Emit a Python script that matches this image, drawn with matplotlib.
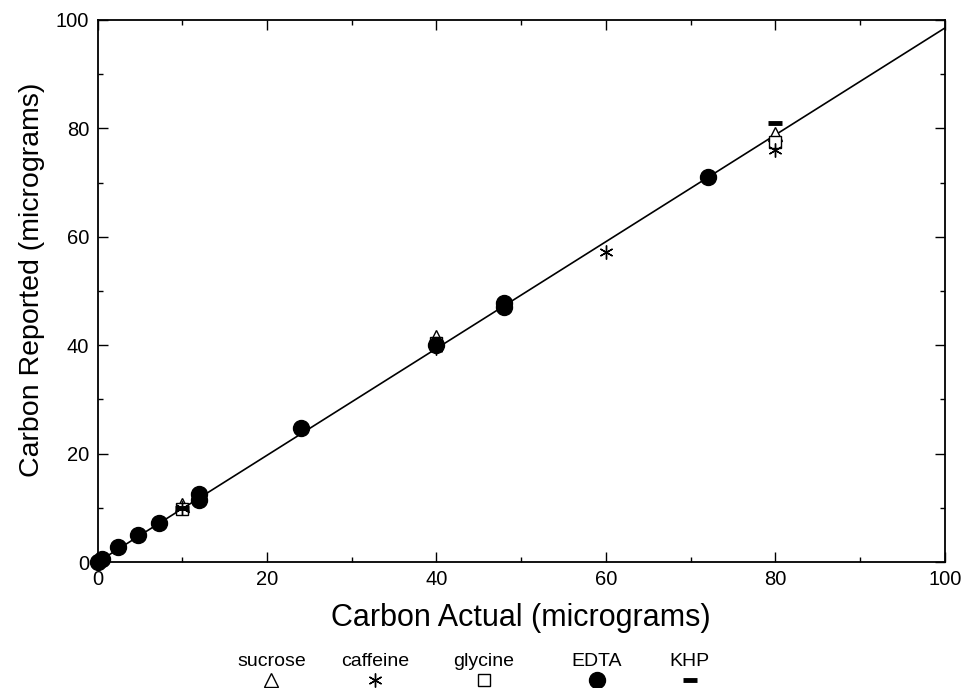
import numpy as np
import matplotlib.pyplot as plt
from matplotlib.ticker import MultipleLocator
from matplotlib.lines import Line2D

plt.rcParams['font.family'] = ['Liberation Sans', 'DejaVu Sans']

# standards: carbon actual vs carbon reported (micrograms)
sucrose_x = [10, 40, 80]
sucrose_y = [10.5, 41.5, 79.0]
caffeine_x = [10, 40, 60, 80]
caffeine_y = [10.0, 39.5, 57.2, 76.0]
glycine_x = [10, 40, 80]
glycine_y = [9.8, 40.5, 77.5]
edta_x = [0, 0.5, 2.4, 4.8, 7.2, 12, 12, 24, 40, 48, 48, 72]
edta_y = [0, 0.5, 2.7, 5.0, 7.3, 11.5, 12.5, 24.8, 40.0, 47.0, 47.8, 71.0]
khp_x = [10, 40, 80]
khp_y = [10.0, 40.0, 81.0]

fit_slope = 0.985
fit_x = np.array([0, 100])

legend_names = ['sucrose', 'caffeine', 'glycine', 'EDTA', 'KHP']

fig = plt.figure(figsize=(9.66, 6.88), dpi=100)
ax = fig.add_axes([0.101, 0.183, 0.877, 0.788])

ax.plot(fit_x, fit_slope * fit_x, color='k', lw=1.2, zorder=1)

styles = {
    'sucrose': dict(marker='^', ms=10.5, mfc='white', mec='k', mew=1.0),
    'caffeine': dict(marker=(6, 2, 0), ms=10, mfc='k', mec='k', mew=1.0),
    'glycine': dict(marker='s', ms=8.5, mfc='white', mec='k', mew=1.0),
    'EDTA': dict(marker='o', ms=11.5, mfc='k', mec='k', mew=1.0),
    'KHP': dict(marker='_', ms=10, mfc='k', mec='k', mew=3.5),
}
series = {
    'sucrose': (sucrose_x, sucrose_y),
    'glycine': (glycine_x, glycine_y),
    'caffeine': (caffeine_x, caffeine_y),
    'KHP': (khp_x, khp_y),
    'EDTA': (edta_x, edta_y),
}
for name, (xs, ys) in series.items():
    ax.plot(xs, ys, ls='none', zorder=3, clip_on=False, **styles[name])

ax.set_xlim(0, 100)
ax.set_ylim(0, 100)
ax.xaxis.set_major_locator(MultipleLocator(20))
ax.yaxis.set_major_locator(MultipleLocator(20))
ax.xaxis.set_minor_locator(MultipleLocator(10))
ax.yaxis.set_minor_locator(MultipleLocator(10))
ax.tick_params(which='both', direction='in', top=True, right=True, width=1)
ax.tick_params(which='major', length=7, labelsize=14.5, pad=6)
ax.tick_params(which='minor', length=3.5)
for sp in ax.spines.values():
    sp.set_linewidth(1.3)

ax.set_xlabel('Carbon Actual (micrograms)', fontsize=22, labelpad=10)
ax.set_ylabel('Carbon Reported (micrograms)', fontsize=20.5)
ax.yaxis.set_label_coords(-0.062, 0.52)

# legend below the plot: name above marker
leg_x = [0.281, 0.388, 0.501, 0.618, 0.714]
for name, lx in zip(legend_names, leg_x):
    fig.text(lx, 0.038, name, ha='center', va='center', fontsize=14)
    fig.add_artist(Line2D([lx], [0.012], transform=fig.transFigure,
                          ls='none', **styles[name]))

fig.savefig('out.png', dpi=100)
